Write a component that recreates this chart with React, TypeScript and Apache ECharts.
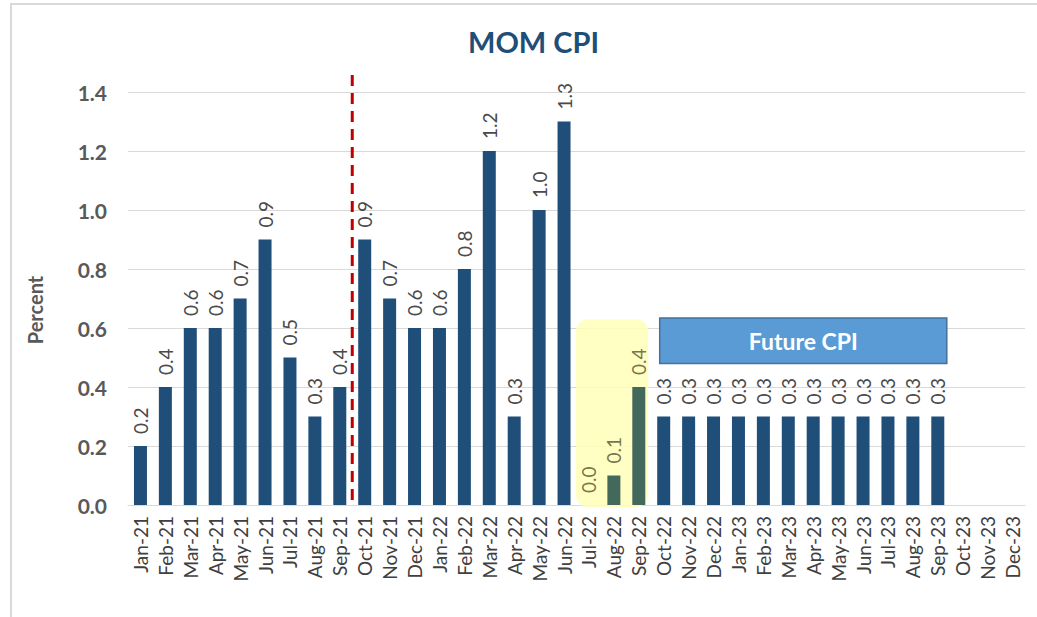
import React, { useEffect, useRef } from "react";
import * as echarts from "echarts";

const categories = [
  "Jan-21", "Feb-21", "Mar-21", "Apr-21", "May-21", "Jun-21", "Jul-21", "Aug-21", "Sep-21",
  "Oct-21", "Nov-21", "Dec-21", "Jan-22", "Feb-22", "Mar-22", "Apr-22", "May-22", "Jun-22",
  "Jul-22", "Aug-22", "Sep-22", "Oct-22", "Nov-22", "Dec-22", "Jan-23", "Feb-23", "Mar-23",
  "Apr-23", "May-23", "Jun-23", "Jul-23", "Aug-23", "Sep-23", "Oct-23", "Nov-23", "Dec-23",
];
const cpiValues: (number | null)[] = [
  0.2, 0.4, 0.6, 0.6, 0.7, 0.9, 0.5, 0.3, 0.4,
  0.9, 0.7, 0.6, 0.6, 0.8, 1.2, 0.3, 1.0, 1.3,
  0.0, 0.1, 0.4, 0.3, 0.3, 0.3, 0.3, 0.3, 0.3,
  0.3, 0.3, 0.3, 0.3, 0.3, 0.3, null, null, null,
];
const highlighted = ["Jul-22", "Aug-22", "Sep-22"];
const futureStart = "Oct-22";
const futureEnd = "Sep-23";
const dividerAfter = "Sep-21";
const yTicks = { min: 0, max: 1.4, interval: 0.2 };

const BLUE = "#1F4E79";
const GREEN = "#43695C";
const FONT = "Lato, 'Open Sans', sans-serif";

export default function App() {
  const ref = useRef<HTMLDivElement>(null);
  useEffect(() => {
    document.body.style.margin = "0";
    const chart = echarts.init(ref.current!, null, { renderer: "svg" });
    const data = cpiValues.map((v, i) => {
      const hl = highlighted.includes(categories[i]);
      return {
        value: v,
        itemStyle: { color: hl ? GREEN : BLUE },
        label: { color: hl ? "#77774a" : "#4a4a4a" },
      };
    });
    chart.setOption({
      animation: false,
      textStyle: { fontFamily: FONT },
      title: {
        text: "MOM CPI",
        left: 463,
        top: 22,
        textStyle: { fontSize: 29, fontWeight: "bold", color: BLUE, fontFamily: FONT },
      },
      grid: { left: 128, right: 12, top: 92, bottom: 112 },
      xAxis: {
        type: "category",
        data: categories,
        axisTick: { show: false },
        axisLine: { lineStyle: { color: "#d9d9d9", width: 1 } },
        axisLabel: { rotate: 90, interval: 0, fontSize: 19, color: "#404040", margin: 11, fontFamily: FONT },
      },
      yAxis: {
        type: "value",
        min: yTicks.min,
        max: yTicks.max,
        interval: yTicks.interval,
        axisLabel: {
          formatter: (v: number) => v.toFixed(1),
          fontSize: 21,
          fontWeight: "bold",
          color: "#595959",
          margin: 21,
          fontFamily: FONT,
        },
        splitLine: { lineStyle: { color: "#d9d9d9", width: 1 } },
        axisLine: { show: false },
        axisTick: { show: false },
      },
      series: [
        {
          type: "bar",
          data,
          barWidth: 13,
          z: 3,
          label: {
            show: true,
            position: "top",
            rotate: 90,
            align: "left",
            verticalAlign: "middle",
            distance: 12,
            fontSize: 19,
            fontFamily: FONT,
            formatter: (p: any) => (p.value == null ? "" : Number(p.value).toFixed(1)),
          },
        },
      ],
    });

    const px = (cat: string, val: number) => chart.convertToPixel({ gridIndex: 0 }, [cat, val]) as number[];
    const step = px(categories[1], 0)[0] - px(categories[0], 0)[0];
    const divX = px(dividerAfter, 0)[0] + step / 2;
    const base = px(categories[0], 0)[1];
    const top14 = px(categories[0], 1.4)[1];
    const hlL = px(highlighted[0], 0)[0] - step / 2 - 0.5;
    const hlR = px(highlighted[highlighted.length - 1], 0)[0] + step / 2 - 3;
    const hlT = px(highlighted[0], 0.63)[1];
    const fL = px(futureStart, 0)[0] - 4;
    const fR = px(futureEnd, 0)[0] + 9;
    const fT = px(futureStart, 0.634)[1];
    const fB = px(futureStart, 0.48)[1];

    chart.setOption({
      graphic: [
        {
          type: "rect",
          z: 0,
          silent: true,
          shape: { x: 11, y: 4, width: 1100, height: 800 },
          style: { fill: "none", stroke: "#d9d9d9", lineWidth: 2 },
        },
        {
          type: "text",
          z: 5,
          silent: true,
          x: 35,
          y: 310,
          rotation: Math.PI / 2,
          style: {
            text: "Percent",
            fill: "#595959",
            font: `bold 20px ${FONT}`,
            textAlign: "center",
            textVerticalAlign: "middle",
          },
        },
        {
          type: "rect",
          z: 1,
          silent: true,
          shape: { x: hlL, y: hlT, width: hlR - hlL, height: base - hlT + 2, r: 12 },
          style: { fill: "rgba(255,255,185,0.85)" },
        },
        {
          type: "line",
          z: 10,
          silent: true,
          shape: { x1: divX, y1: top14 - 17, x2: divX, y2: base },
          style: { stroke: "#C00000", lineWidth: 3, lineDash: [11, 7] },
        },
        {
          type: "rect",
          z: 10,
          silent: true,
          shape: { x: fL, y: fT, width: fR - fL, height: fB - fT },
          style: { fill: "#5B9BD5", stroke: "#41719C", lineWidth: 1.5 },
        },
        {
          type: "text",
          z: 11,
          silent: true,
          x: (fL + fR) / 2,
          y: (fT + fB) / 2,
          style: {
            text: "Future CPI",
            fill: "#ffffff",
            font: `bold 23px ${FONT}`,
            textAlign: "center",
            textVerticalAlign: "middle",
          },
        },
      ],
    });
    return () => chart.dispose();
  }, []);
  return <div ref={ref} style={{ width: 1037, height: 617 }} />;
}
